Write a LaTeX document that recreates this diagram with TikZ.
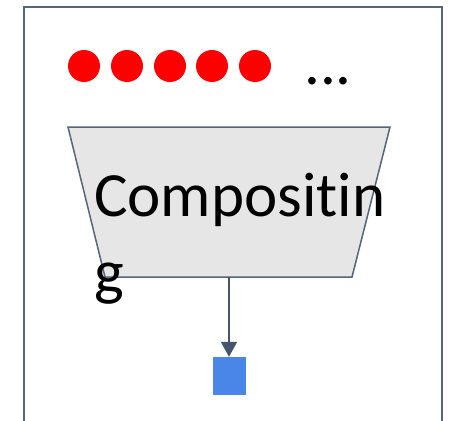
\documentclass[tikz,border=0pt]{standalone}
\usepackage{fontspec}
\setmainfont{Carlito}[Ligatures=NoCommon]
\usetikzlibrary{arrows.meta}
\definecolor{framegray}{HTML}{56647C}
\definecolor{flowgray}{HTML}{44546A}
\definecolor{stagefill}{HTML}{E6E6E6}
\definecolor{outblue}{HTML}{4A86E8}
\tikzstyle{frame}=[draw=framegray, line width=2pt]
\tikzstyle{token}=[circle, fill=red, minimum size=32pt, inner sep=0pt]
\tikzstyle{big text}=[font=\fontsize{63}{77}\selectfont, inner sep=0pt]
\tikzstyle{stage}=[draw=framegray, line width=1.5pt, fill=stagefill, line join=miter]
\tikzstyle{output}=[fill=outblue, minimum width=33pt, minimum height=38pt, inner sep=0pt]
\tikzstyle{flow}=[draw=flowgray, line width=2pt, -{Triangle[width=16pt,length=15pt]}]

\begin{document}
\begin{tikzpicture}[x=1pt, y=-1pt]
      \useasboundingbox (0,0) rectangle (452,420);
      \clip (0,0) rectangle (452,420);
      \draw[frame] (24,7) rectangle (442,440);
      % input tokens
      \node[token] (t1) at (84,66) {};
      \node[token] (t2) at (127,66) {};
      \node[token] (t3) at (170,66) {};
      \node[token] (t4) at (212,66) {};
      \node[token] (t5) at (255,66) {};
      \node[big text, anchor=base] (more) at (328,84) {...};
      % compositing stage
      \draw[stage] (68,127) -- (390,127) -- (352,277) -- (105,277) -- cycle;
      \coordinate (comp_out) at (229,277);
      % base of a two-line node sits on its last line
      \node[big text, anchor=base west, align=left] (comp_name) at (94,293) {Compositin\\g};
      \node[output] (out) at (229,376) {};
      \draw[flow] (comp_out) -- (out.north);
    \end{tikzpicture}
\end{document}
